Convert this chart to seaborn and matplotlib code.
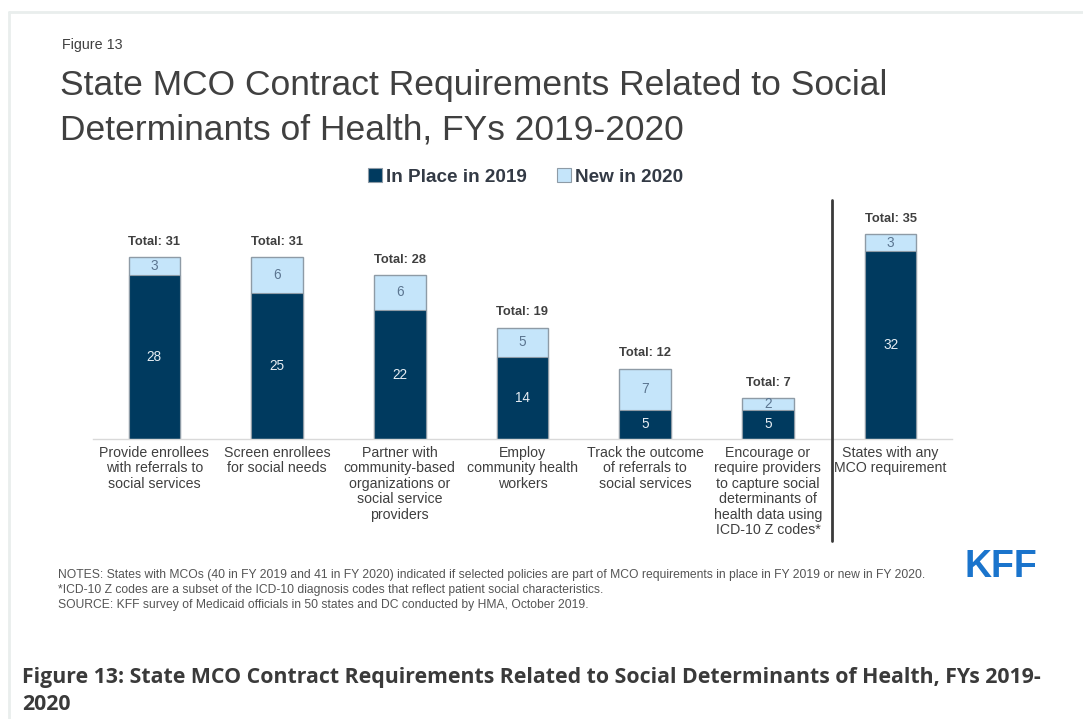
import matplotlib
matplotlib.use("Agg")
import matplotlib.pyplot as plt
from matplotlib.lines import Line2D
from matplotlib.patches import Rectangle
from matplotlib.transforms import blended_transform_factory
import numpy as np
import pandas as pd
import seaborn as sns

# Data
categories = [
    "Provide enrollees\nwith referrals to\nsocial services",
    "Screen enrollees\nfor social needs",
    "Partner with\ncommunity-based\norganizations or\nsocial service\nproviders",
    "Employ\ncommunity health\nworkers",
    "Track the outcome\nof referrals to\nsocial services",
    "Encourage or\nrequire providers\nto capture social\ndeterminants of\nhealth data using\nICD-10 Z codes*",
    "States with any\nMCO requirement",
]
in_place_2019 = [28, 25, 22, 14, 5, 5, 32]
new_2020 = [3, 6, 6, 5, 7, 2, 3]
series_names = ["In Place in 2019", "New in 2020"]

title_lines = ["State MCO Contract Requirements Related to Social",
               "Determinants of Health, FYs 2019-2020"]
note_lines = [
    "NOTES: States with MCOs (40 in FY 2019 and 41 in FY 2020) indicated if selected policies are part of MCO requirements in place in FY 2019 or new in FY 2020.",
    "*ICD-10 Z codes are a subset of the ICD-10 diagnosis codes that reflect patient social characteristics.",
    "SOURCE: KFF survey of Medicaid officials in 50 states and DC conducted by HMA, October 2019.",
]
caption_lines = ["Figure 13: State MCO Contract Requirements Related to Social Determinants of Health, FYs 2019-",
                 "2020"]

totals = [a + b for a, b in zip(in_place_2019, new_2020)]
df = pd.DataFrame({"cat": categories, "in2019": in_place_2019,
                   "new2020": new_2020, "total": totals})

DARK = "#003a5f"
LIGHT = "#c5e5fa"
EDGE = "#8e9ba6"
TEXT = "#3f3f3f"

sns.set_theme(style="white")
plt.rcParams["font.family"] = ["Liberation Sans", "DejaVu Sans"]

fig = plt.figure(figsize=(10.83, 7.19), dpi=100)
fig.patch.set_facecolor("white")
W, H = 1083, 719


def fy(px):
    return 1 - px / H


ax = fig.add_axes([93 / W, fy(439), (952 - 93) / W, 234.4 / H])
bw = 0.42
# Stacked bars: full total in light blue, 2019 portion in navy over it
sns.barplot(data=df, x="cat", y="total", color=LIGHT, width=bw,
            edgecolor=EDGE, linewidth=1.0, saturation=1, ax=ax)
sns.barplot(data=df, x="cat", y="in2019", color=DARK, width=bw,
            edgecolor=EDGE, linewidth=0.8, saturation=1, ax=ax)

ax.set_ylim(0, 40)
ax.set_xlim(-0.5, len(categories) - 0.5)
ax.set_xlabel("")
ax.set_ylabel("")
ax.set_yticks([])
for s in ["left", "right", "top"]:
    ax.spines[s].set_visible(False)
ax.spines["bottom"].set_color("#d9d9d9")
ax.spines["bottom"].set_linewidth(1.0)

ax.set_xticks(range(len(categories)))
ax.set_xticklabels(categories, fontsize=10.2, color=TEXT, linespacing=1.13,
                   va="top")
ax.tick_params(axis="x", which="major", length=0, pad=5)
ax.set_xticks([k + 0.5 for k in range(-1, len(categories) - 1) if k != 5],
              minor=True)
ax.tick_params(axis="x", which="minor", length=5, color="#d9d9d9", width=1,
               direction="out")

for i, (a, b, t) in enumerate(zip(in_place_2019, new_2020, totals)):
    ax.text(i, a / 2, str(a), ha="center", va="center", fontsize=9.8,
            color="#e6edf3")
    ax.text(i, a + b / 2, str(b), ha="center", va="center", fontsize=9.8,
            color="#5b7590")
    ax.text(i, t + 1.6, f"Total: {t}", ha="center", va="bottom",
            fontsize=9.3, fontweight="bold", color=TEXT)

# Divider before the summary bar
tr = blended_transform_factory(ax.transData, fig.transFigure)
fig.add_artist(Line2D([5.52, 5.52], [fy(200), fy(541)], transform=tr,
                      color="#3a3a3a", linewidth=2.0))

# Card border
fig.add_artist(Line2D([9 / W, 1], [fy(12), fy(12)],
                      transform=fig.transFigure, color="#e9eeed", linewidth=2))
fig.add_artist(Line2D([9 / W, 9 / W], [0, fy(12)],
                      transform=fig.transFigure, color="#e9eeed", linewidth=2))

# Headings
fig.text(62 / W, fy(49), "Figure 13", fontsize=10.3, color=TEXT,
         va="baseline", ha="left")
for line, base in zip(title_lines, [95, 140]):
    fig.text(60 / W, fy(base), line, fontsize=25.5, color="#404040",
             va="baseline", ha="left")

# Legend
handles = [Rectangle((0, 0), 1, 1, facecolor=DARK, edgecolor=EDGE, lw=0.8),
           Rectangle((0, 0), 1, 1, facecolor=LIGHT, edgecolor=EDGE, lw=0.8)]
leg = fig.legend(handles, series_names, loc="center",
                 bbox_to_anchor=(526 / W, fy(177)), ncol=2, frameon=False,
                 handlelength=0.7, handleheight=0.7, handletextpad=0.25,
                 columnspacing=1.6,
                 prop={"size": 13.6, "weight": "bold"})
for t in leg.get_texts():
    t.set_color("#333a45")

# Notes
for line, base in zip(note_lines, [578, 593, 608]):
    fig.text(58 / W, fy(base), line, fontsize=8.7, color="#555555",
             va="baseline", ha="left")

# Logo
fig.text(1001 / W, fy(577), "KFF", fontsize=27, fontweight="bold",
         color="#1a74cc", ha="center", va="baseline")

# Caption
for line, base in zip(caption_lines, [683, 710]):
    fig.text(22 / W, fy(base), line, fontsize=15.3, fontweight="bold",
             color="#3a3a3a", ha="left", va="baseline",
             family=["Open Sans", "DejaVu Sans"])

fig.savefig("out.png", dpi=100, facecolor="white")
